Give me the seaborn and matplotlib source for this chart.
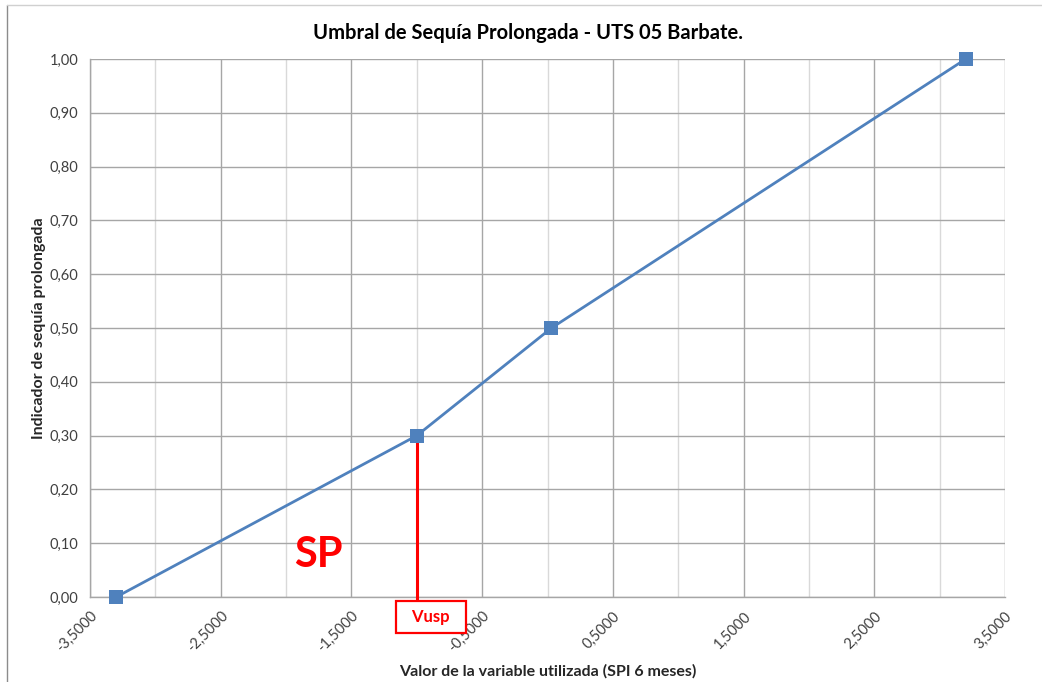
import matplotlib
matplotlib.use("Agg")
import matplotlib.pyplot as plt
import matplotlib.ticker as mticker
from matplotlib.lines import Line2D
import pandas as pd
import seaborn as sns

# valores
spi = [-3.30, -1.00, 0.03, 3.20]
indicador = [0.00, 0.30, 0.50, 1.00]
vusp_x = -1.00
vusp_y = 0.30

titulo = "Umbral de Sequía Prolongada - UTS 05 Barbate."
xlabel = "Valor de la variable utilizada (SPI 6 meses)"
ylabel = "Indicador de sequía prolongada"

df = pd.DataFrame({"SPI": spi, "Indicador": indicador})

sns.set_style("white")
plt.rcParams["font.family"] = ["Lato", "DejaVu Sans"]

fig = plt.figure(figsize=(10.42, 6.82), dpi=100)
ax = fig.add_axes([0.0864, 0.1246, 0.8781, 0.7889])

# rejilla
ax.set_xlim(-3.5, 3.5)
ax.set_ylim(0, 1.0)
ax.xaxis.set_major_locator(mticker.MultipleLocator(1.0, offset=0.5))
ax.xaxis.set_minor_locator(mticker.MultipleLocator(0.5))
ax.yaxis.set_major_locator(mticker.MultipleLocator(0.1))
ax.grid(True, which="major", axis="both", color="#a6a6a6", linewidth=1.0)
ax.grid(True, which="minor", axis="x", color="#d9d9d9", linewidth=1.0)
ax.set_axisbelow(True)

sns.lineplot(data=df, x="SPI", y="Indicador", ax=ax, color="#4f81bd",
             linewidth=2.0, marker="s", markersize=10, markeredgewidth=0,
             zorder=4)
for ln in ax.lines:
    ln.set_clip_on(False)

# linea roja y etiquetas
ax.plot([vusp_x, vusp_x], [vusp_y, -0.006], color="#ff0000", linewidth=2.2,
        clip_on=False, zorder=3)
ax.text(-1.755, 0.078, "SP", color="#ff0000", fontsize=30, fontweight="bold",
        ha="center", va="center", zorder=5)
ax.text(vusp_x + 0.11, -0.037, "  Vusp  ", color="#ff0000", fontsize=12,
        fontweight="bold", ha="center", va="center", clip_on=False, zorder=6,
        bbox=dict(boxstyle="square,pad=0.5", facecolor="white",
                  edgecolor="#ff0000", linewidth=1.6))

fmt_x = mticker.FuncFormatter(lambda v, p: f"{v:.4f}".replace(".", ","))
fmt_y = mticker.FuncFormatter(lambda v, p: f"{v:.2f}".replace(".", ","))
ax.xaxis.set_major_formatter(fmt_x)
ax.yaxis.set_major_formatter(fmt_y)

ax.tick_params(axis="both", which="major", direction="out", length=5,
               color="#a6a6a6", labelsize=10.5, labelcolor="#404040")
ax.tick_params(axis="x", which="minor", length=0)
plt.setp(ax.get_xticklabels(), rotation=45, ha="right", va="top",
         rotation_mode="anchor")

for s in ["top", "right"]:
    ax.spines[s].set_visible(False)
for s in ["left", "bottom"]:
    ax.spines[s].set_color("#a6a6a6")
    ax.spines[s].set_linewidth(1.0)

ax.set_xlabel("")
ax.set_ylabel("")
fig.text(0.507, 0.952, titulo, ha="center", va="center", fontsize=14.5,
         fontweight="bold", color="#000000")
fig.text(0.526, 0.016, xlabel, ha="center", va="center", fontsize=11.5,
         fontweight="bold")
fig.text(0.037, 0.519, ylabel, ha="center", va="center", fontsize=11.5,
         fontweight="bold", rotation=90)

# marco del grafico
fig.add_artist(Line2D([0.0067, 0.0067], [0.0, 0.993], color="#8c8c8c",
                      linewidth=1.0, transform=fig.transFigure))
fig.add_artist(Line2D([0.0067, 1.0], [0.993, 0.993], color="#d0d0d0",
                      linewidth=1.0, transform=fig.transFigure))

fig.savefig("out.png", dpi=100, facecolor="white")
